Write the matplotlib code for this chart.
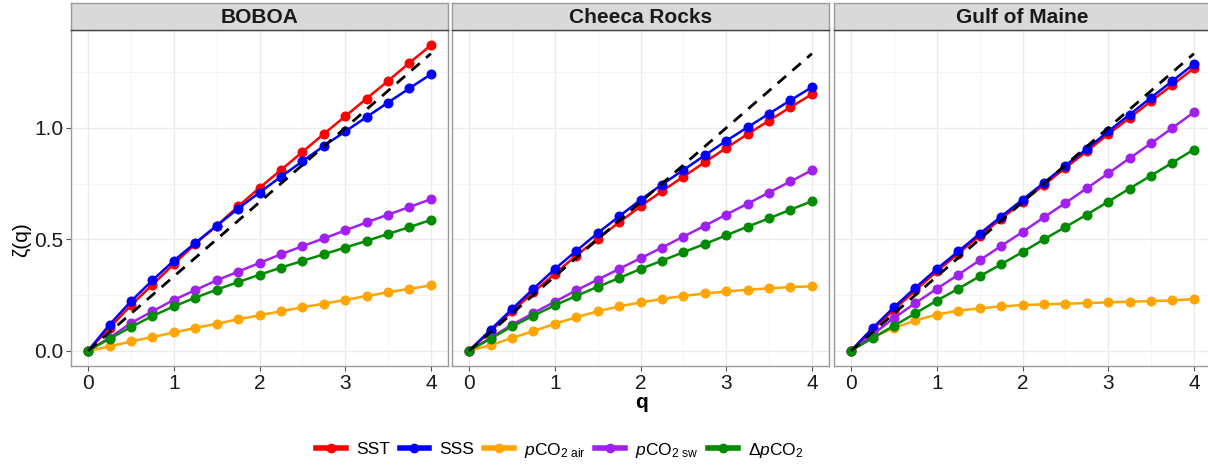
import matplotlib
matplotlib.use('Agg')
import matplotlib.pyplot as plt
from matplotlib.lines import Line2D
from matplotlib.ticker import MultipleLocator, FormatStrFormatter
from matplotlib import font_manager
import numpy as np

plt.rcParams['font.family'] = ['Liberation Sans', 'DejaVu Sans']
names = {f.name for f in font_manager.fontManager.ttflist}
legend_font = 'Liberation Sans Narrow' if 'Liberation Sans Narrow' in names else 'Liberation Sans'
plt.rcParams['mathtext.fontset'] = 'custom'
plt.rcParams['mathtext.rm'] = legend_font
plt.rcParams['mathtext.it'] = legend_font + ':italic'

# data
q = [0, 0.25, 0.5, 0.75, 1.0, 1.25, 1.5, 1.75, 2.0, 2.25, 2.5, 2.75, 3.0, 3.25, 3.5, 3.75, 4.0]
sites = ['BOBOA', 'Cheeca Rocks', 'Gulf of Maine']
labels = ['SST', 'SSS', r'$p\mathrm{CO}_{2\ \mathrm{air}}$', r'$p\mathrm{CO}_{2\ \mathrm{sw}}$',
          r'$\Delta p\mathrm{CO}_2$']
colors = ['#FF0000', '#0000FF', '#FFA500', '#A020F0', '#008B00']

boboa_sst = [0, 0.102, 0.204, 0.296, 0.389, 0.479, 0.561, 0.648, 0.731, 0.811, 0.892, 0.973, 1.052, 1.132, 1.211, 1.292, 1.371]
boboa_sss = [0, 0.117, 0.222, 0.316, 0.404, 0.484, 0.561, 0.638, 0.710, 0.781, 0.850, 0.919, 0.984, 1.049, 1.114, 1.178, 1.241]
boboa_air = [0, 0.019, 0.042, 0.061, 0.082, 0.102, 0.121, 0.141, 0.159, 0.177, 0.195, 0.211, 0.228, 0.246, 0.262, 0.278, 0.293]
boboa_sw = [0, 0.058, 0.124, 0.177, 0.228, 0.272, 0.316, 0.355, 0.394, 0.433, 0.469, 0.504, 0.540, 0.576, 0.611, 0.645, 0.680]
boboa_d = [0, 0.054, 0.106, 0.156, 0.199, 0.238, 0.274, 0.308, 0.341, 0.373, 0.403, 0.433, 0.463, 0.493, 0.524, 0.555, 0.587]

cheeca_sst = [0, 0.087, 0.177, 0.262, 0.346, 0.427, 0.503, 0.576, 0.648, 0.716, 0.781, 0.846, 0.910, 0.972, 1.033, 1.093, 1.151]
cheeca_sss = [0, 0.094, 0.187, 0.278, 0.367, 0.448, 0.528, 0.603, 0.677, 0.746, 0.811, 0.877, 0.942, 1.003, 1.064, 1.124, 1.183]
cheeca_air = [0, 0.025, 0.057, 0.088, 0.121, 0.150, 0.177, 0.199, 0.217, 0.232, 0.246, 0.257, 0.266, 0.274, 0.280, 0.286, 0.289]
cheeca_sw = [0, 0.057, 0.117, 0.169, 0.220, 0.271, 0.319, 0.367, 0.415, 0.463, 0.512, 0.561, 0.611, 0.660, 0.710, 0.760, 0.810]
cheeca_d = [0, 0.054, 0.109, 0.157, 0.204, 0.246, 0.287, 0.326, 0.367, 0.404, 0.442, 0.479, 0.518, 0.557, 0.594, 0.633, 0.671]

gom_sst = [0, 0.094, 0.184, 0.271, 0.356, 0.436, 0.516, 0.591, 0.669, 0.744, 0.820, 0.895, 0.972, 1.045, 1.120, 1.193, 1.268]
gom_sss = [0, 0.102, 0.195, 0.283, 0.367, 0.446, 0.525, 0.602, 0.678, 0.754, 0.831, 0.906, 0.984, 1.060, 1.136, 1.211, 1.287]
gom_air = [0, 0.061, 0.102, 0.136, 0.162, 0.180, 0.190, 0.199, 0.205, 0.208, 0.211, 0.214, 0.217, 0.220, 0.223, 0.226, 0.232]
gom_sw = [0, 0.072, 0.147, 0.214, 0.278, 0.341, 0.406, 0.470, 0.533, 0.599, 0.663, 0.729, 0.796, 0.864, 0.931, 1.000, 1.070]
gom_d = [0, 0.057, 0.112, 0.168, 0.225, 0.278, 0.334, 0.388, 0.443, 0.500, 0.555, 0.611, 0.669, 0.728, 0.786, 0.844, 0.903]

panels = {
    'BOBOA': [boboa_sst, boboa_sss, boboa_air, boboa_sw, boboa_d],
    'Cheeca Rocks': [cheeca_sst, cheeca_sss, cheeca_air, cheeca_sw, cheeca_d],
    'Gulf of Maine': [gom_sst, gom_sss, gom_air, gom_sw, gom_d],
}

W, H = 1208, 467
fig = plt.figure(figsize=(W / 100, H / 100), dpi=100)


def px_axes(left, top, right, bottom):
    return fig.add_axes([left / W, 1 - bottom / H, (right - left) / W, (bottom - top) / H])


q_arr = np.array(q)
ymax = max(max(max(s) for s in v) for v in panels.values())
ymax = max(ymax, q_arr.max() / 3)
pad = 0.05 * ymax
lefts = [71, 452, 834]
pw = 377

for i, site in enumerate(sites):
    l = lefts[i]
    ax = px_axes(l, 30, l + pw, 366)
    for ser, c in zip(panels[site], colors):
        ax.plot(q, ser, color=c, lw=1.8, marker='o', ms=6.2, zorder=3)
    # K41 reference line, zeta = q/3
    ax.plot(q_arr, q_arr / 3, color='black', lw=2.0, ls=(0, (4, 3)), zorder=4)
    ax.set_xlim(-0.2, 4.2)
    ax.set_ylim(-pad, ymax + pad)
    ax.xaxis.set_major_locator(MultipleLocator(1))
    ax.xaxis.set_minor_locator(MultipleLocator(0.5))
    ax.yaxis.set_major_locator(MultipleLocator(0.5))
    ax.yaxis.set_minor_locator(MultipleLocator(0.25))
    ax.xaxis.set_major_formatter(FormatStrFormatter('%d'))
    ax.grid(which='major', color='#EBEBEB', lw=1.0)
    ax.grid(which='minor', color='#F3F3F3', lw=0.6)
    ax.set_axisbelow(True)
    ax.tick_params(which='minor', length=0)
    ax.tick_params(which='major', length=3.5, width=0.8, color='#555555',
                   labelsize=15, labelcolor='#1A1A1A', pad=2)
    if i == 0:
        ax.yaxis.set_major_formatter(FormatStrFormatter('%.1f'))
    else:
        ax.tick_params(axis='y', which='both', left=False, labelleft=False)
    for sp in ax.spines.values():
        sp.set_color('#9A9A9A')
        sp.set_linewidth(1.0)

    st = px_axes(l, 3, l + pw, 30)
    st.set_facecolor('#D9D9D9')
    st.set_xticks([])
    st.set_yticks([])
    for k, sp in st.spines.items():
        sp.set_color('#9A9A9A' if k != 'bottom' else '#444444')
        sp.set_linewidth(1.0)
    st.text(0.5, 0.47, site, ha='center', va='center', fontsize=15, fontweight='bold',
            color='#1A1A1A', transform=st.transAxes)

fig.text(641 / W, 1 - 402 / H, 'q', ha='center', va='center', fontsize=15, fontweight='bold')
fig.text(22 / W, 1 - 240 / H, 'ζ(q)', ha='center', va='center', fontsize=15, rotation=90)

handles = [Line2D([0], [0], color=c, lw=4, marker='o', ms=6) for c in colors]
fig.legend(handles, labels, loc='center', bbox_to_anchor=(560 / W, 1 - 450 / H), ncol=5,
           frameon=False, prop={'family': legend_font, 'size': 12.5},
           handlelength=1.7, handletextpad=0.6, columnspacing=0.55)

fig.savefig('out.png', dpi=100)
